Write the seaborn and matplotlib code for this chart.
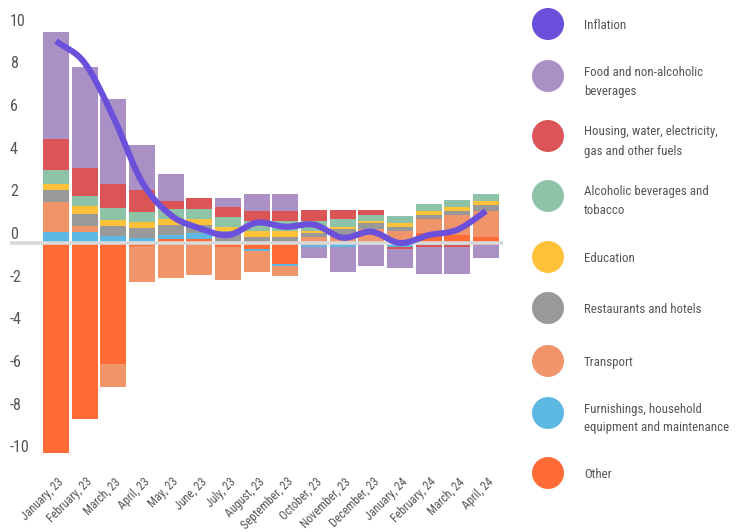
import numpy as np
import pandas as pd
import matplotlib
matplotlib.use("Agg")
import matplotlib.pyplot as plt
import matplotlib.transforms as mtrans
from matplotlib.patches import Circle
from matplotlib import font_manager as fm
import seaborn as sns

# ---------------- data ----------------
months = ["January, 23", "February, 23", "March, 23", "April, 23", "May, 23", "June, 23",
          "July, 23", "August, 23", "September, 23", "October, 23", "November, 23",
          "December, 23", "January, 24", "February, 24", "March, 24", "April, 24"]

inflation = [9.46, 8.43, 5.9, 2.86, 1.31, 0.7, 0.37, 0.95, 0.76, 0.86, 0.25, 0.53, 0.0, 0.37, 0.62, 1.5]

food = [5.01, 4.73, 3.98, 2.11, 1.26, 0.0, 0.42, 0.80, 0.80, -0.52, -1.16, -0.97, -0.89, -1.26, -1.26, -0.61]
housing = [1.41, 1.31, 1.12, 1.03, 0.37, 0.52, 0.47, 0.47, 0.47, 0.52, 0.42, 0.23, -0.10, -0.10, -0.10, -0.10]
alcohol = [0.66, 0.47, 0.56, 0.47, 0.47, 0.47, 0.47, 0.47, 0.47, 0.47, 0.37, 0.28, 0.33, 0.33, 0.33, 0.33]
education = [0.28, 0.37, 0.28, 0.28, 0.28, 0.28, 0.19, 0.28, 0.28, 0.09, 0.09, 0.09, 0.19, 0.19, 0.19, 0.19]
restaurants = [0.56, 0.56, 0.47, 0.47, 0.47, 0.37, 0.47, 0.28, 0.28, 0.19, 0.28, 0.28, 0.19, 0.19, 0.19, 0.28]
transport = [1.41, 0.28, -1.06, -1.72, -1.66, -1.50, -1.55, -0.97, -0.47, 0.28, 0.37, 0.66, 0.56, 0.66, 0.94, 1.22]
furnishings = [0.53, 0.53, 0.34, 0.25, 0.19, 0.28, 0.09, -0.09, -0.09, -0.10, -0.20, -0.10, -0.20, -0.10, -0.10, 0.0]
other = [-9.82, -8.24, -5.67, -0.13, 0.19, 0.19, -0.19, -0.28, -0.98, -0.10, 0.0, 0.0, 0.0, 0.47, 0.37, 0.28]

yticks = [-10, -8, -6, -4, -2, 0, 2, 4, 6, 8, 10]

legend_labels = ["Inflation", "Food and non-alcoholic\nbeverages",
                 "Housing, water, electricity,\ngas and other fuels",
                 "Alcoholic beverages and\ntobacco", "Education", "Restaurants and hotels",
                 "Transport", "Furnishings, household\nequipment and maintenance", "Other"]
legend_colors = ["#6A50DA", "#AB90C6", "#DB5456", "#8EC3A7", "#FDC13A", "#999999",
                 "#F0956A", "#5DB7E3", "#FF6B35"]

# stacking order (bottom -> top, away from zero)
stack = [("Other", other, "#FF6B35"),
         ("Furnishings", furnishings, "#5DB7E3"),
         ("Transport", transport, "#F0956A"),
         ("Restaurants", restaurants, "#999999"),
         ("Education", education, "#FDC13A"),
         ("Alcohol", alcohol, "#8EC3A7"),
         ("Housing", housing, "#DB5456"),
         ("Food", food, "#AB90C6")]

df = pd.DataFrame({name: vals for name, vals, _ in stack})
df["month"] = months
df["inflation"] = inflation

# ---------------- style ----------------
sns.set_theme(style="white")
names = {f.name for f in fm.fontManager.ttflist}
narrow = None
for cand in ["Liberation Sans Narrow", "Roboto Condensed", "Open Sans Condensed", "DejaVu Sans Condensed"]:
    if cand in names:
        narrow = cand
        break
stretch = "normal"
if narrow is None:
    narrow = "DejaVu Sans"
    stretch = "condensed"
plt.rcParams["font.family"] = [narrow, "DejaVu Sans"]
plt.rcParams["font.stretch"] = stretch

W, H = 743, 532
fig = plt.figure(figsize=(W / 100, H / 100), dpi=100)
ax_left, ax_right, ax_top, ax_bottom = 10, 503, 5, 462
ax = fig.add_axes([ax_left / W, 1 - ax_bottom / H, (ax_right - ax_left) / W, (ax_bottom - ax_top) / H])

x = np.arange(len(months))
pos = np.zeros(len(months))
neg = np.zeros(len(months))
for name, _, color in stack:
    vals = df[name].to_numpy()
    bottom = np.where(vals >= 0, pos, neg)
    ax.bar(x, vals, bottom=bottom, width=0.91, color=color, linewidth=0, zorder=2)
    pos = pos + np.where(vals >= 0, vals, 0)
    neg = neg + np.where(vals < 0, vals, 0)

# zero line
ax.axhline(0, color="#d9d9d9", lw=2.6, zorder=3)

# smooth inflation curve (Catmull-Rom through the data points)
P = np.column_stack([x, df["inflation"].to_numpy()])
P = np.vstack([2 * P[0] - P[1], P, 2 * P[-1] - P[-2]])
seg = []
t = np.linspace(0, 1, 25, endpoint=False)[:, None]
for i in range(1, len(P) - 2):
    p0, p1, p2, p3 = P[i - 1], P[i], P[i + 1], P[i + 2]
    seg.append(0.5 * ((2 * p1) + (-p0 + p2) * t + (2 * p0 - 5 * p1 + 4 * p2 - p3) * t ** 2
                      + (-p0 + 3 * p1 - 3 * p2 + p3) * t ** 3))
seg.append(P[-2][None, :])
curve = np.vstack(seg)
sns.lineplot(x=curve[:, 0], y=curve[:, 1], sort=False, estimator=None, ax=ax,
             color="#6A50DA", lw=4.4, zorder=5, solid_capstyle="butt")

px_per_unit = 21.35
zero_px = 243
ax.set_ylim((zero_px - ax_bottom) / px_per_unit, (zero_px - ax_top) / px_per_unit)
step = 28.67
ax.set_xlim(-(56 - ax_left) / step, (ax_right - 56) / step)

for s in ax.spines.values():
    s.set_visible(False)
ax.grid(False)
ax.set_yticks([])
ax.set_xlabel("")
ax.set_ylabel("")

# y labels sitting just above their gridline, left aligned
ytrans = mtrans.blended_transform_factory(ax.transAxes, ax.transData) + \
    mtrans.ScaledTranslation(0, 4 / 100, fig.dpi_scale_trans)
for v in yticks:
    ax.text(0, v, str(v), transform=ytrans, ha="left", va="baseline",
            fontsize=11.5, color="#555555")

ax.set_xticks(x)
ax.set_xticklabels(months, rotation=45, ha="right", rotation_mode="anchor",
                   fontsize=8.6, color="#555555")
ax.tick_params(axis="x", length=0, pad=6)
off = mtrans.ScaledTranslation(1 / 100, -5 / 100, fig.dpi_scale_trans)
for lab in ax.get_xticklabels():
    lab.set_transform(lab.get_transform() + off)

# legend on the right (true circles, sized in pixels)
circle_y = [24, 76, 136, 196, 257, 308, 361, 413, 473]
for cy, lab, col in zip(circle_y, legend_labels, legend_colors):
    fig.patches.append(Circle((548 / 100, (H - cy) / 100), 16 / 100,
                              transform=fig.dpi_scale_trans, color=col, ec="none"))
    two = "\n" in lab
    ty = cy + (5.5 if two else 1.5)
    fig.text(584 / W, 1 - ty / H, lab, ha="left", va="center", fontsize=9.3,
             color="#555555", linespacing=1.6)

fig.savefig("out.png", dpi=100)
